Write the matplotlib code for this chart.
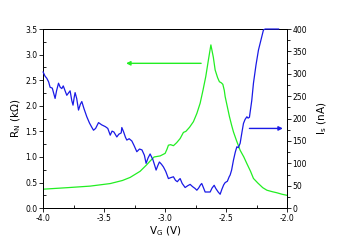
import matplotlib
matplotlib.use('Agg')
import matplotlib.pyplot as plt
from matplotlib.ticker import MultipleLocator

# R_N (kOhm) vs gate voltage -- green, left axis
vg_r = [-4.0, -3.8, -3.615, -3.45, -3.35, -3.287, -3.205, -3.15, -3.123, -3.09,
        -3.041, -3.0, -2.985, -2.973, -2.955, -2.932, -2.905, -2.877, -2.85, -2.83,
        -2.80, -2.768, -2.74, -2.713, -2.69, -2.667, -2.645, -2.625, -2.605, -2.59,
        -2.57, -2.555, -2.54, -2.527, -2.515, -2.508, -2.49, -2.473, -2.455, -2.44,
        -2.415, -2.385, -2.355, -2.33, -2.30, -2.276, -2.24, -2.20, -2.166, -2.12,
        -2.084, -2.04, -2.0]
r_n = [0.37, 0.40, 0.43, 0.48, 0.54, 0.60, 0.72, 0.85, 0.92, 1.00,
       1.02, 1.07, 1.15, 1.23, 1.24, 1.22, 1.28, 1.36, 1.48, 1.50,
       1.58, 1.69, 1.85, 2.05, 2.30, 2.57, 2.90, 3.19, 2.95, 2.70,
       2.55, 2.47, 2.45, 2.42, 2.30, 2.18, 1.98, 1.79, 1.62, 1.49,
       1.32, 1.13, 1.00, 0.87, 0.72, 0.58, 0.49, 0.40, 0.35, 0.32,
       0.30, 0.27, 0.25]

# I_s (nA) vs gate voltage -- blue, right axis
vg_i = [-4.0, -3.985, -3.97, -3.955, -3.943, -3.925, -3.902, -3.89, -3.874, -3.86,
        -3.847, -3.835, -3.82, -3.806, -3.79, -3.779, -3.765, -3.755, -3.745, -3.738,
        -3.725, -3.71, -3.695, -3.683, -3.665, -3.642, -3.62, -3.60, -3.587, -3.57,
        -3.546, -3.52, -3.49, -3.47, -3.45, -3.435, -3.42, -3.396, -3.38, -3.36,
        -3.355, -3.34, -3.325, -3.314, -3.295, -3.273, -3.255, -3.232, -3.21, -3.19,
        -3.17, -3.156, -3.14, -3.123, -3.10, -3.085, -3.074, -3.06, -3.047, -3.03,
        -3.014, -2.995, -2.973, -2.955, -2.932, -2.915, -2.90, -2.888, -2.877, -2.86,
        -2.836, -2.815, -2.795, -2.775, -2.755, -2.74, -2.725, -2.71, -2.70, -2.685,
        -2.672, -2.65, -2.631, -2.615, -2.598, -2.585, -2.565, -2.549, -2.535, -2.52,
        -2.508, -2.49, -2.475, -2.467, -2.455, -2.44, -2.425, -2.412, -2.40, -2.385,
        -2.37, -2.358, -2.345, -2.33, -2.32, -2.309, -2.29, -2.276, -2.255, -2.235,
        -2.215, -2.194, -2.18, -2.10, -2.07]
i_s = [304, 295, 290, 282, 270, 268, 245, 262, 279, 270,
       267, 273, 262, 252, 258, 262, 240, 230, 248, 258,
       245, 219, 232, 238, 222, 204, 190, 180, 174, 178,
       191, 186, 182, 178, 163, 172, 170, 159, 165, 168,
       180, 170, 158, 152, 155, 150, 140, 126, 132, 130,
       118, 100, 112, 121, 108, 95, 85, 95, 103, 98,
       92, 82, 66, 68, 70, 62, 59, 63, 66, 55,
       46, 50, 53, 48, 44, 40, 45, 52, 55, 45,
       36, 36, 36, 45, 51, 44, 36, 31, 42, 52,
       57, 60, 70, 74, 85, 107, 125, 137, 135, 145,
       170, 189, 198, 204, 201, 203, 240, 279, 320, 353,
       375, 398, 400, 400, 400]

plt.rcParams['font.family'] = 'DejaVu Sans'
plt.rcParams['font.size'] = 5.5

fig = plt.figure(figsize=(3.37, 2.42), dpi=100)
ax = fig.add_axes([0.128, 0.140, 0.724, 0.740])
ax2 = ax.twinx()

ax.plot(vg_r, r_n, color='#22ee22', lw=0.9)
ax2.plot(vg_i, i_s, color='#1a1ae6', lw=0.9, zorder=3, clip_on=False)

ax.set_xlim(-4.0, -2.0)
ax.set_ylim(0, 3.5)
ax2.set_ylim(0, 400)

ax.xaxis.set_major_locator(MultipleLocator(0.5))
ax.xaxis.set_minor_locator(MultipleLocator(0.25))
ax.yaxis.set_major_locator(MultipleLocator(0.5))
ax.yaxis.set_minor_locator(MultipleLocator(0.25))
ax2.yaxis.set_major_locator(MultipleLocator(50))
ax2.yaxis.set_minor_locator(MultipleLocator(25))
ax.xaxis.set_major_formatter(matplotlib.ticker.FormatStrFormatter('%.1f'))
ax.yaxis.set_major_formatter(matplotlib.ticker.FormatStrFormatter('%.1f'))

ax.tick_params(axis='both', which='major', direction='out', length=3, width=0.6, pad=1)
ax.tick_params(axis='both', which='minor', direction='in', length=2, width=0.6)
ax2.tick_params(axis='y', which='major', direction='out', length=3, width=0.6, pad=1)
ax2.tick_params(axis='y', which='minor', direction='out', length=2, width=0.6)

for a in (ax, ax2):
    for s in a.spines.values():
        s.set_linewidth(0.7)

ax.set_xlabel('V$_\\mathregular{G}$ (V)', fontsize=7.5, labelpad=1)
ax.set_ylabel('R$_\\mathregular{N}$ (k\u03a9)', fontsize=7.5, labelpad=2)
ax2.set_ylabel('I$_\\mathregular{s}$ (nA)', fontsize=7.5, labelpad=6)

# arrows pointing to the matching axis
ax.annotate('', xy=(-3.32, 2.83), xytext=(-2.705, 2.83),
            arrowprops=dict(arrowstyle='-|>', color='#22ee22', lw=1.0,
                            mutation_scale=6, shrinkA=0, shrinkB=0))
ax2.annotate('', xy=(-2.035, 178), xytext=(-2.309, 178),
             arrowprops=dict(arrowstyle='-|>', color='#1a1ae6', lw=1.0,
                             mutation_scale=6, shrinkA=0, shrinkB=0))

fig.savefig('out.png', dpi=100)
